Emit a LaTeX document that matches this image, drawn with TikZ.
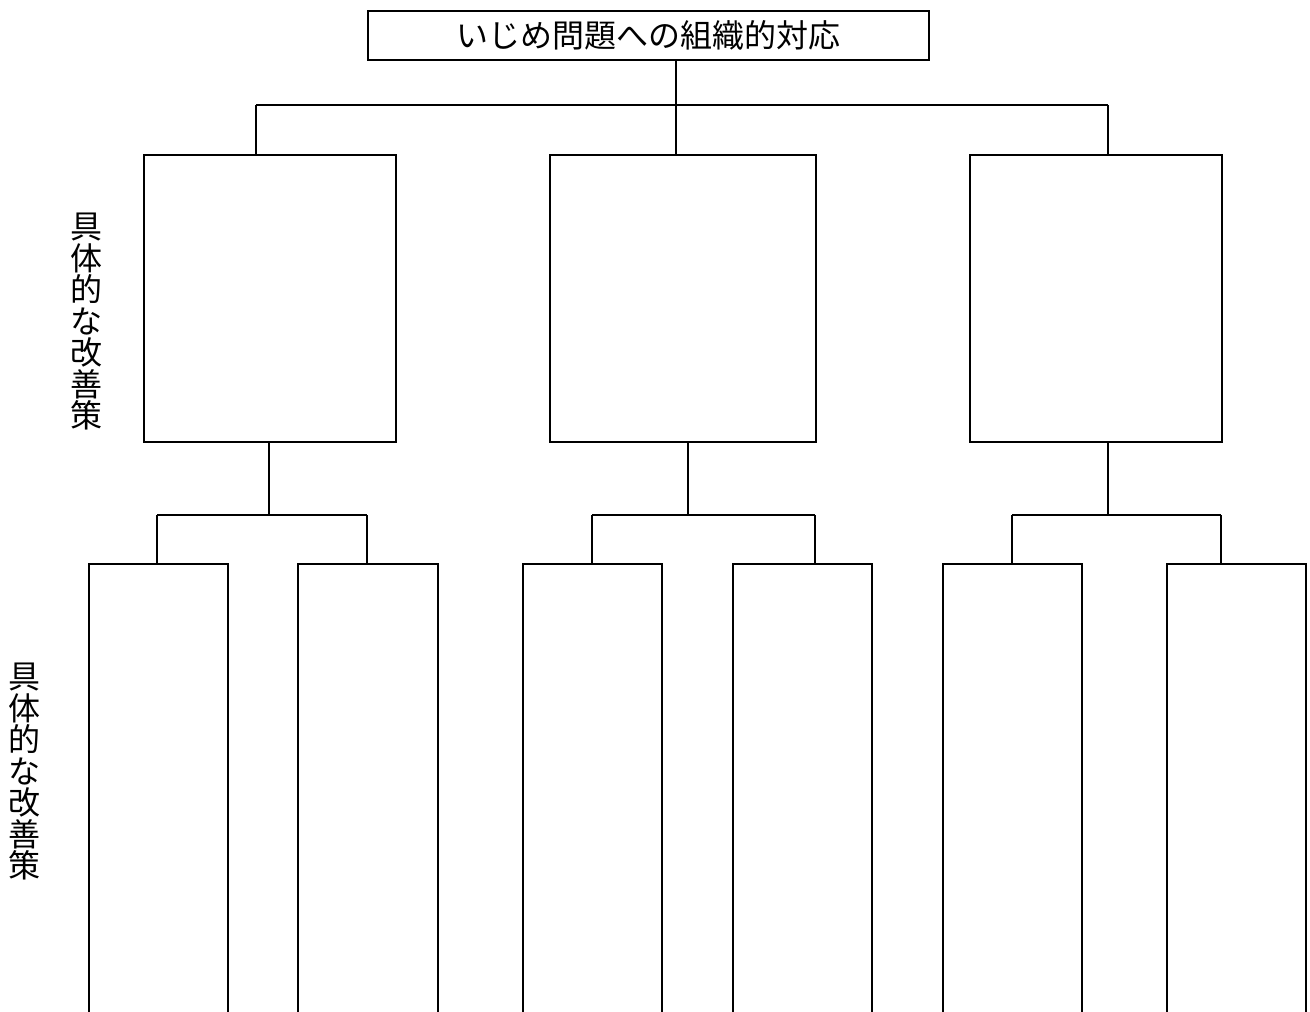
\documentclass[tikz,border=0pt]{standalone}
\usepackage{fontspec}
\newfontfamily\jp{Noto Sans CJK JP}
\tikzset{
  box/.style={draw, line width=1.5pt, rectangle, inner sep=0pt, anchor=north west},
  link/.style={line width=1.5pt},
  vlabel/.style={align=center, inner sep=0pt, font=\jp\fontsize{32}{31.5}\selectfont}
}
\begin{document}
\begin{tikzpicture}[x=1pt,y=-1pt]
\useasboundingbox (0,0) rectangle (1310,1012);
\clip (0,0) rectangle (1310,1012);
% title
\node[box, minimum width=561pt, minimum height=49pt, font=\jp\fontsize{32}{36}\selectfont] (title) at (367,10) {いじめ問題への組織的対応};
% middle boxes
\node[box, minimum width=252pt, minimum height=287pt] (m1) at (143,154) {};
\node[box, minimum width=266pt, minimum height=287pt] (m2) at (549,154) {};
\node[box, minimum width=252pt, minimum height=287pt] (m3) at (969,154) {};
% bottom boxes (run past the lower edge)
\node[box, minimum width=139pt, minimum height=480pt] (b1) at (88,563) {};
\node[box, minimum width=140pt, minimum height=480pt] (b2) at (297,563) {};
\node[box, minimum width=139pt, minimum height=480pt] (b3) at (522,563) {};
\node[box, minimum width=139pt, minimum height=480pt] (b4) at (732,563) {};
\node[box, minimum width=139pt, minimum height=480pt] (b5) at (942,563) {};
\node[box, minimum width=139pt, minimum height=480pt] (b6) at (1166,563) {};
% labels
\node[vlabel] (l1) at (86,322) {具\\体\\的\\な\\改\\善\\策};
\node[vlabel] (l2) at (25,772) {具\\体\\的\\な\\改\\善\\策};
% top connectors
\coordinate (j0) at (676,105);
\coordinate (d1) at (256,105);
\coordinate (d3) at (1108,105);
\draw[link] (title.south -| j0) -- (j0);
\draw[link] (d1) -- (d3);
\draw[link] (d1) -- (d1 |- m1.north);
\draw[link] (j0) -- (j0 |- m2.north);
\draw[link] (d3) -- (d3 |- m3.north);
% group 1
\coordinate (g1) at (269,515);
\coordinate (g1l) at (157,515);
\coordinate (g1r) at (367,515);
\draw[link] (g1 |- m1.south) -- (g1);
\draw[link] (g1l) -- (g1r);
\draw[link] (g1l) -- (g1l |- b1.north);
\draw[link] (g1r) -- (g1r |- b2.north);
% group 2
\coordinate (g2) at (688,515);
\coordinate (g2l) at (592,515);
\coordinate (g2r) at (815,515);
\draw[link] (g2 |- m2.south) -- (g2);
\draw[link] (g2l) -- (g2r);
\draw[link] (g2l) -- (g2l |- b3.north);
\draw[link] (g2r) -- (g2r |- b4.north);
% group 3
\coordinate (g3) at (1108,515);
\coordinate (g3l) at (1012,515);
\coordinate (g3r) at (1221,515);
\draw[link] (g3 |- m3.south) -- (g3);
\draw[link] (g3l) -- (g3r);
\draw[link] (g3l) -- (g3l |- b5.north);
\draw[link] (g3r) -- (g3r |- b6.north);
\end{tikzpicture}
\end{document}
